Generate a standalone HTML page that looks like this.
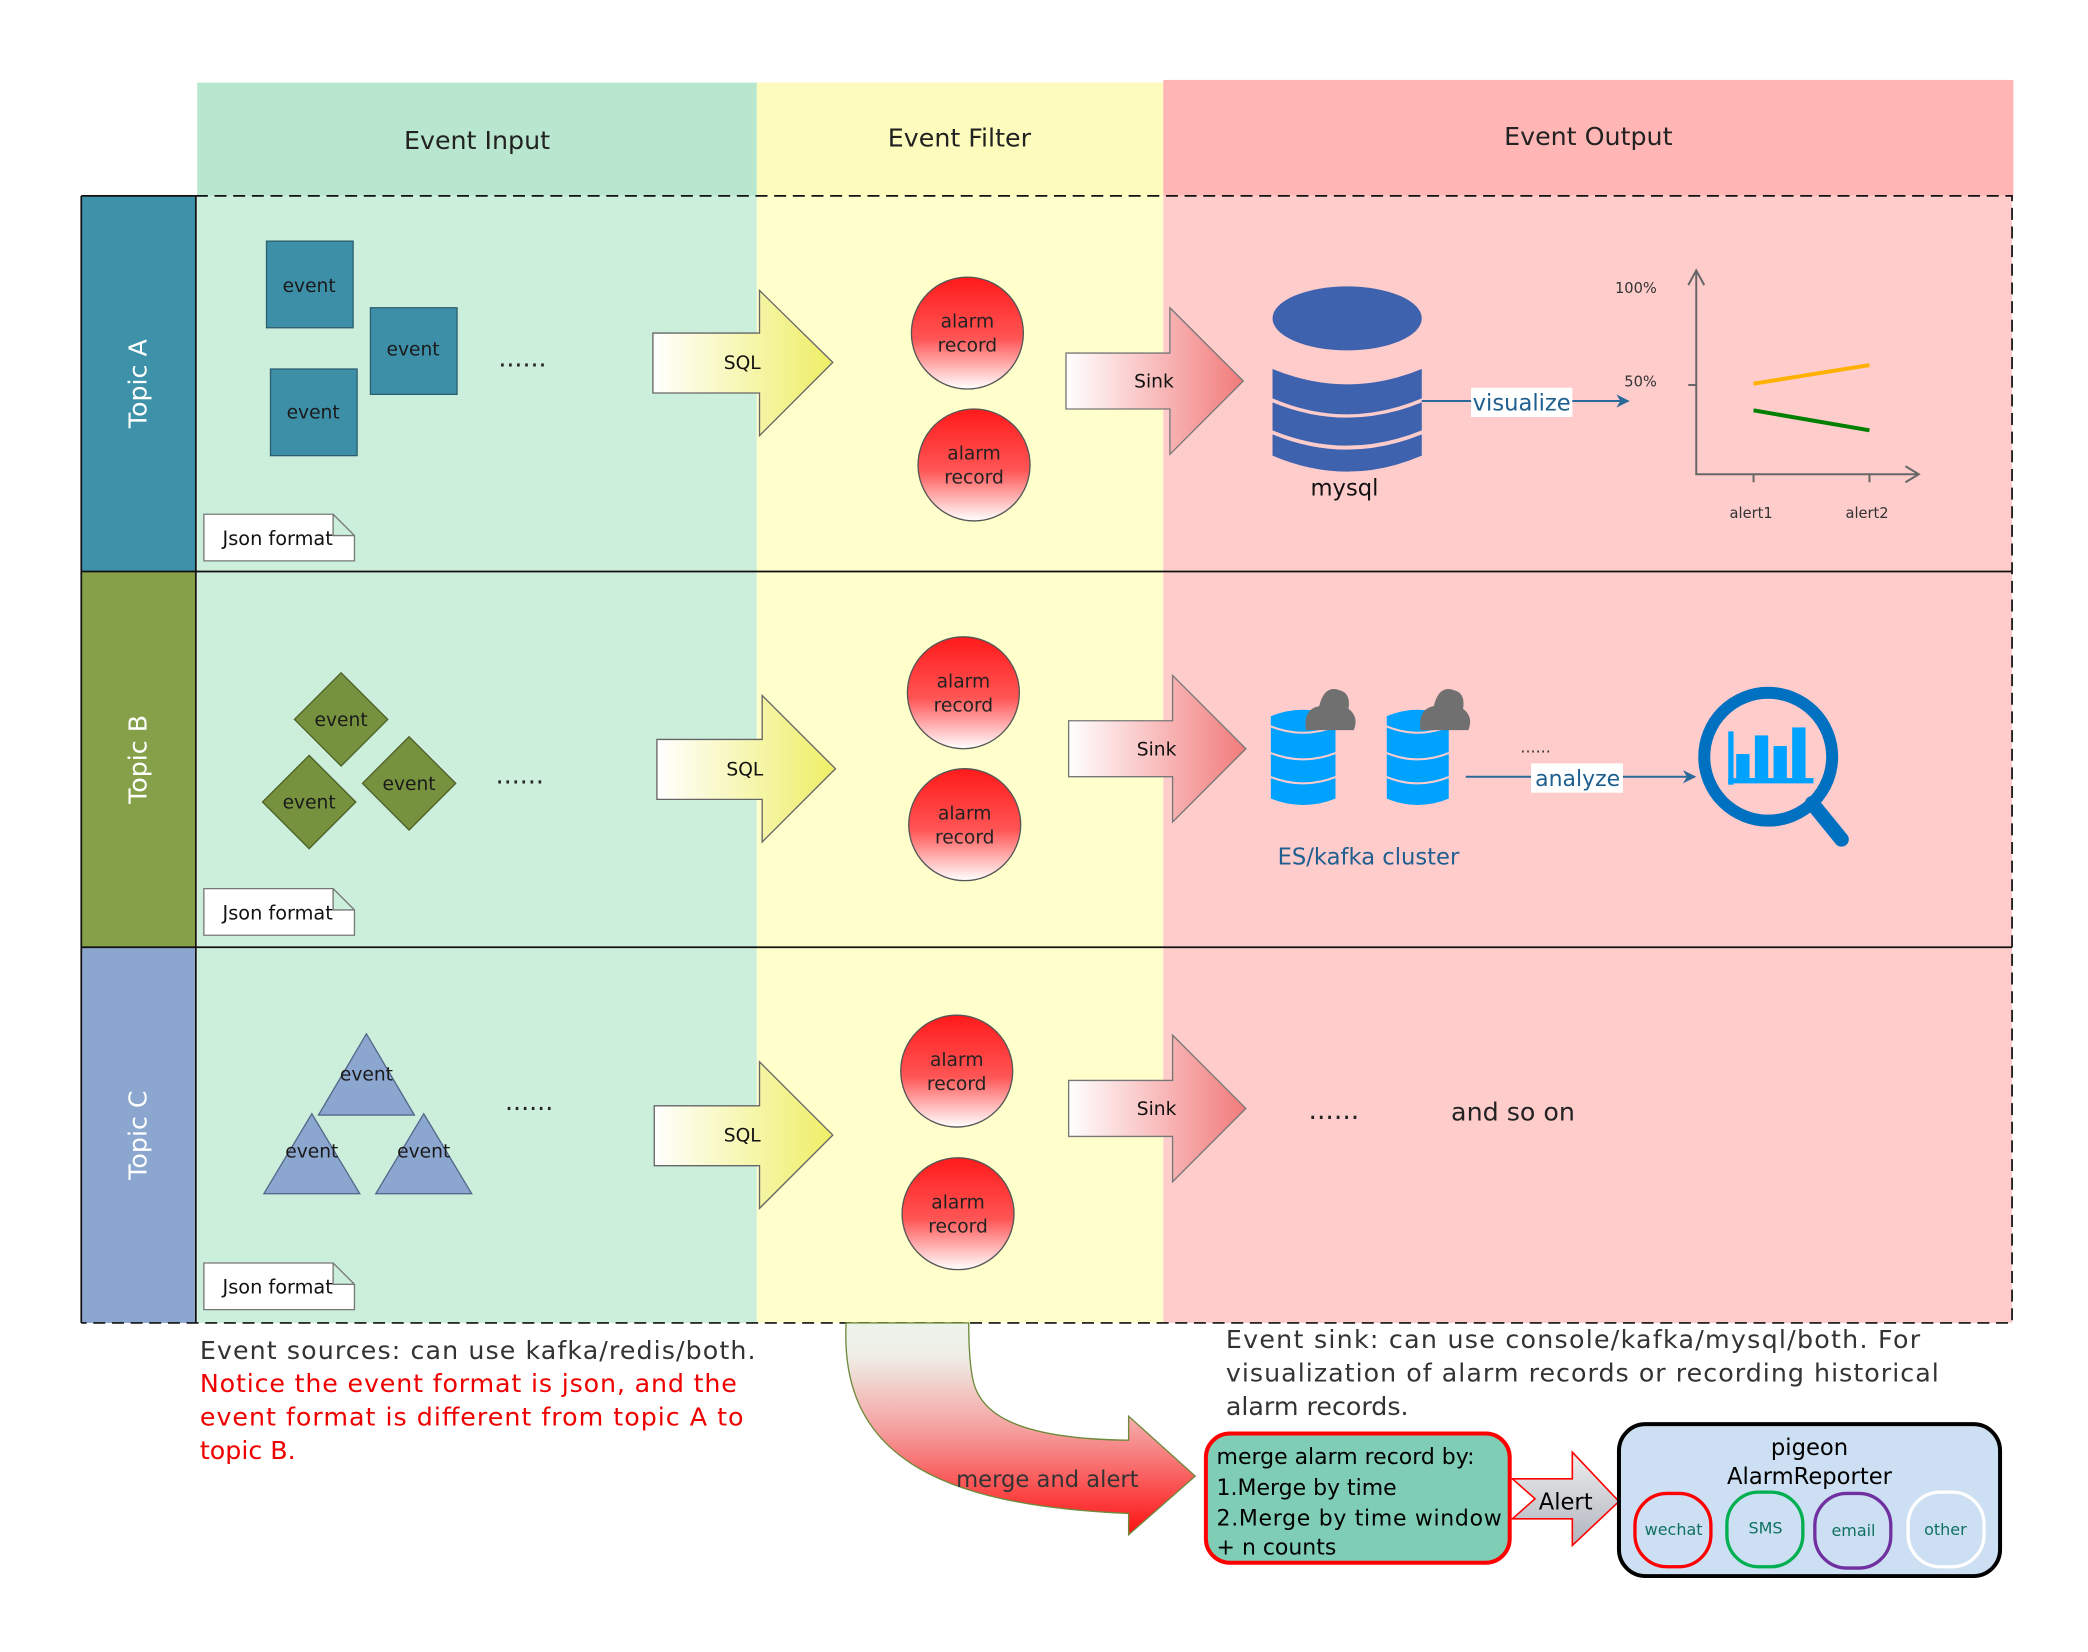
<!DOCTYPE html>
<html><head><meta charset="utf-8"><style>
html,body{margin:0;padding:0;background:#fff;}
svg{display:block;}
text{font-family:"DejaVu Sans","Liberation Sans",sans-serif;}
</style></head><body>
<svg width="2088" height="1652" viewBox="0 0 1567 1240" preserveAspectRatio="none" xmlns="http://www.w3.org/2000/svg">
<defs>
<linearGradient id="gy" x1="0" y1="0" x2="1" y2="0"><stop offset="0" stop-color="#ffffff"/><stop offset="1" stop-color="#eeee66"/></linearGradient>
<linearGradient id="gr" x1="0" y1="0" x2="1" y2="0"><stop offset="0" stop-color="#ffffff"/><stop offset="1" stop-color="#f27b7b"/></linearGradient>
<linearGradient id="gc" x1="0" y1="0" x2="0" y2="1"><stop offset="0" stop-color="#ff1a1a"/><stop offset="0.55" stop-color="#f55"/><stop offset="1" stop-color="#fff"/></linearGradient>
<linearGradient id="gm" x1="0" y1="0" x2="0" y2="1"><stop offset="0" stop-color="#eef3ea"/><stop offset="0.15" stop-color="#eef0e8"/><stop offset="0.5" stop-color="#f5a0a0"/><stop offset="1" stop-color="#ff1010"/></linearGradient>
<linearGradient id="ga" x1="0" y1="0" x2="0" y2="1"><stop offset="0" stop-color="#eeeeee"/><stop offset="1" stop-color="#b0b4be"/></linearGradient>
<marker id="ar" markerWidth="10" markerHeight="10" refX="9" refY="5" orient="auto" markerUnits="userSpaceOnUse"><path d="M0,0 L10,5 L0,10 L3,5 Z" fill="#2a6a9a"/></marker>
</defs>
<rect x="148" y="62" width="420" height="85" fill="#b8e6cf"/>
<rect x="568" y="62" width="305" height="85" fill="#fdfcbd"/>
<rect x="873" y="60" width="638" height="87" fill="#ffb6b5"/>
<text x="358" y="112" font-size="19" text-anchor="middle" fill="#222">Event Input</text>
<text x="720" y="110" font-size="19" text-anchor="middle" fill="#222">Event Filter</text>
<text x="1192" y="109" font-size="19" text-anchor="middle" fill="#222">Event Output</text>
<rect x="148" y="147" width="420" height="846" fill="#ccefdc"/>
<rect x="568" y="147" width="305" height="846" fill="#ffffcc"/>
<rect x="873" y="147" width="637" height="846" fill="#ffcccc"/>
<rect x="61" y="147" width="86" height="282" fill="#3d91a8"/>
<rect x="61" y="429" width="86" height="282" fill="#86a04a"/>
<rect x="61" y="711" width="86" height="282" fill="#8ba6cf"/>
<text transform="translate(110,288) rotate(-90)" font-size="19" fill="#fff" text-anchor="middle">Topic A</text>
<text transform="translate(110,570) rotate(-90)" font-size="19" fill="#fff" text-anchor="middle">Topic B</text>
<text transform="translate(110,852) rotate(-90)" font-size="19" fill="#fff" text-anchor="middle">Topic C</text>
<path d="M61,147 V993 M147,147 V993 M61,147 H147 M61,429 H1510 M61,711 H1510" stroke="#111" stroke-width="1.3" fill="none"/>
<path d="M147,147 H1510 V993 H61" stroke="#111" stroke-width="1.3" fill="none" stroke-dasharray="9,5"/>
<g fill="#3d8fa8" stroke="#2d5f70" stroke-width="1">
<rect x="200" y="181" width="65" height="65"/><rect x="278" y="231" width="65" height="65"/><rect x="203" y="277" width="65" height="65"/>
</g>
<g font-size="14" fill="#1a1a1a" text-anchor="middle">
<text x="232" y="219">event</text><text x="310" y="267">event</text><text x="235" y="314">event</text>
</g>
<g fill="#77923f" stroke="#4e6128" stroke-width="1">
<polygon points="256,505 291,540 256,575 221,540"/><polygon points="232,567 267,602 232,637 197,602"/><polygon points="307,553 342,588 307,623 272,588"/>
</g>
<g font-size="14" fill="#1a1a1a" text-anchor="middle">
<text x="256" y="545">event</text><text x="232" y="607">event</text><text x="307" y="593">event</text>
</g>
<g fill="#8ba6cf" stroke="#55688a" stroke-width="1">
<polygon points="275,776 311,837 239,837"/><polygon points="234,836 270,896 198,896"/><polygon points="318,836 354,896 282,896"/>
</g>
<g font-size="14" fill="#1a1a1a" text-anchor="middle">
<text x="275" y="811">event</text><text x="234" y="869">event</text><text x="318" y="869">event</text>
</g>
<g font-size="19" fill="#222"><text x="374" y="275">......</text><text x="372" y="588">......</text><text x="379" y="833">......</text></g>
<g font-size="14.5" fill="#111">
<path d="M153,386 H250 L266,402 V421 H153 Z M250,386 V402 H266" fill="#fff" stroke="#777"/><text x="167" y="409">Json format</text>
<path d="M153,667 H250 L266,683 V702 H153 Z M250,667 V683 H266" fill="#fff" stroke="#777"/><text x="167" y="690">Json format</text>
<path d="M153,948 H250 L266,964 V983 H153 Z M250,948 V964 H266" fill="#fff" stroke="#777"/><text x="167" y="971">Json format</text>
</g>
<g fill="url(#gy)" stroke="#666" stroke-width="1">
<polygon points="490,250 570,250 570,218 625,272 570,327 570,295 490,295"/>
<polygon points="493,555 572,555 572,522 627,577 572,632 572,600 493,600"/>
<polygon points="491,830 570,830 570,797 625,852 570,907 570,875 491,875"/>
</g>
<g font-size="14" fill="#111" text-anchor="middle"><text x="557" y="277">SQL</text><text x="559" y="582">SQL</text><text x="557" y="857">SQL</text></g>
<g fill="url(#gc)" stroke="#555" stroke-width="1">
<circle cx="726" cy="250" r="42"/><circle cx="731" cy="349" r="42"/>
<circle cx="723" cy="520" r="42"/><circle cx="724" cy="619" r="42"/>
<circle cx="718" cy="804" r="42"/><circle cx="719" cy="911" r="42"/>
</g>
<g font-size="14" fill="#222" text-anchor="middle">
<text x="726" y="246">alarm</text><text x="726" y="264">record</text>
<text x="731" y="345">alarm</text><text x="731" y="363">record</text>
<text x="723" y="516">alarm</text><text x="723" y="534">record</text>
<text x="724" y="615">alarm</text><text x="724" y="633">record</text>
<text x="718" y="800">alarm</text><text x="718" y="818">record</text>
<text x="719" y="907">alarm</text><text x="719" y="925">record</text>
</g>
<g fill="url(#gr)" stroke="#777" stroke-width="1">
<polygon points="800,265 878,265 878,231 933,286 878,341 878,307 800,307"/>
<polygon points="802,541 880,541 880,507 935,562 880,617 880,583 802,583"/>
<polygon points="802,811 880,811 880,777 935,832 880,887 880,853 802,853"/>
</g>
<g font-size="14" fill="#111" text-anchor="middle"><text x="866" y="291">Sink</text><text x="868" y="567">Sink</text><text x="868" y="837">Sink</text></g>
<g fill="#3e62ad">
<ellipse cx="1011" cy="239" rx="56" ry="24"/>
<path d="M955,277 Q1011,300 1067,277 V299 Q1011,323 955,299 Z"/>
<path d="M955,302 Q1011,325 1067,302 V323 Q1011,346 955,323 Z"/>
<path d="M955,326 Q1011,349 1067,326 V342 Q1011,366 955,342 Z"/>
</g>
<text x="1009" y="372" font-size="17" fill="#111" text-anchor="middle">mysql</text>
<line x1="1067" y1="301" x2="1222" y2="301" stroke="#2a6a9a" stroke-width="1.5" marker-end="url(#ar)"/>
<rect x="1104" y="291" width="76" height="22" fill="#fff"/>
<text x="1142" y="308" font-size="17" fill="#1f5f8f" text-anchor="middle">visualize</text>
<g stroke="#666" stroke-width="1.5" fill="none">
<path d="M1273,203 V356 H1440"/><path d="M1267,214 L1273,203 L1279,214"/><path d="M1430,350 L1440,356 L1430,362"/>
<path d="M1267,289 H1273 M1316,356 V362 M1403,356 V362"/>
</g>
<line x1="1316" y1="288" x2="1403" y2="274" stroke="#ffb000" stroke-width="3"/>
<line x1="1316" y1="308" x2="1403" y2="323" stroke="#008000" stroke-width="3"/>
<g font-size="11" fill="#333"><text x="1212" y="220">100%</text><text x="1219" y="290">50%</text><text x="1298" y="389">alert1</text><text x="1385" y="389">alert2</text></g>
<g fill="#00a2ff" stroke="#ffcccc" stroke-width="1.5">
<path d="M953,537 Q978,527 1003,537 V600 Q978,610 953,600 Z"/>
<path d="M953,565 Q978,575 1003,565 M953,583 Q978,593 1003,583 M953,545 Q978,555 1003,545" fill="none"/>
<path d="M1040,537 Q1064,527 1088,537 V600 Q1064,610 1040,600 Z"/>
<path d="M1040,565 Q1064,575 1088,565 M1040,583 Q1064,593 1088,583 M1040,545 Q1064,555 1088,545" fill="none"/>
</g>
<g fill="#707070">
<path d="M980,548 Q978,532 990,530 Q994,514 1005,518 Q1014,520 1012,532 Q1020,538 1016,548 Z"/>
<path d="M1066,548 Q1064,532 1076,530 Q1080,514 1091,518 Q1100,520 1098,532 Q1106,538 1102,548 Z"/>
</g>
<text x="1141" y="565" font-size="12" fill="#333">......</text>
<line x1="1100" y1="583" x2="1272" y2="583" stroke="#2a6a9a" stroke-width="1.5" marker-end="url(#ar)"/>
<rect x="1149" y="573" width="69" height="22" fill="#fff"/>
<text x="1184" y="590" font-size="16.5" fill="#1f5f8f" text-anchor="middle">analyze</text>
<text x="1027" y="649" font-size="17" fill="#1f5f8f" text-anchor="middle">ES/kafka cluster</text>
<line x1="1360" y1="603" x2="1382" y2="630" stroke="#0070c0" stroke-width="11" stroke-linecap="round"/>
<circle cx="1327" cy="568" r="48" fill="none" stroke="#0070c0" stroke-width="9"/>
<g fill="#00a2ff"><rect x="1297" y="549" width="4" height="40"/><rect x="1297" y="584" width="64" height="4"/><rect x="1303" y="566" width="10" height="18"/><rect x="1317" y="552" width="10" height="32"/><rect x="1331" y="560" width="10" height="24"/><rect x="1345" y="546" width="10" height="38"/></g>
<text x="982" y="840" font-size="20" fill="#222">......</text>
<text x="1089" y="841" font-size="19" fill="#222">and so on</text>
<g font-size="19">
<text x="150" y="1020" fill="#333" textLength="417">Event sources: can use kafka/redis/both.</text>
<text x="150" y="1045" fill="#e00" textLength="403">Notice the event format is json, and the</text>
<text x="150" y="1070" fill="#e00" textLength="408">event format is different from topic A to</text>
<text x="150" y="1095" fill="#e00">topic B.</text>
<text x="920" y="1012" fill="#333" textLength="521">Event sink: can use console/kafka/mysql/both. For</text>
<text x="920" y="1037" fill="#333" textLength="535">visualization of alarm records or recording historical</text>
<text x="920" y="1062" fill="#333">alarm records.</text>
</g>
<path d="M635,993 C630,1090 700,1130 847,1136 V1152 L897,1108 L847,1063 V1081 C760,1080 735,1060 730,1035 C727,1020 727,1000 727,993 Z" fill="url(#gm)" stroke="#6e8a3a" stroke-width="1"/>
<text x="786" y="1116" font-size="17" fill="#333" text-anchor="middle">merge and alert</text>
<rect x="905" y="1076" width="228" height="97" rx="18" fill="#7fcdb5" stroke="#f00" stroke-width="3"/>
<g font-size="16.5" fill="#000"><text x="913" y="1099">merge alarm record by:</text><text x="913" y="1122">1.Merge by time</text><text x="913" y="1145" textLength="214">2.Merge by time window</text><text x="913" y="1167">+ n counts</text></g>
<polygon points="1135,1110 1180,1110 1180,1090 1215,1127 1180,1160 1180,1140 1135,1140 1152,1125" fill="url(#ga)" stroke="#f00" stroke-width="1.2"/>
<text x="1175" y="1133" font-size="17" fill="#000" text-anchor="middle">Alert</text>
<rect x="1215" y="1069" width="286" height="114" rx="20" fill="#cddff3" stroke="#000" stroke-width="3"/>
<text x="1358" y="1092" font-size="17" fill="#000" text-anchor="middle">pigeon</text>
<text x="1358" y="1114" font-size="17" fill="#000" text-anchor="middle">AlarmReporter</text>
<rect x="1227" y="1121" width="57" height="55" rx="24" fill="none" stroke="#f00" stroke-width="2.5"/>
<rect x="1296" y="1120" width="57" height="56" rx="24" fill="none" stroke="#00b050" stroke-width="2.5"/>
<rect x="1362" y="1121" width="57" height="56" rx="24" fill="none" stroke="#7030a0" stroke-width="2.5"/>
<rect x="1432" y="1120" width="57" height="56" rx="24" fill="none" stroke="#fff" stroke-width="2.5"/>
<g font-size="12" fill="#0f7060" text-anchor="middle"><text x="1256" y="1152">wechat</text><text x="1325" y="1151">SMS</text><text x="1391" y="1153">email</text><text x="1460" y="1152">other</text></g>
</svg>
</body></html>
